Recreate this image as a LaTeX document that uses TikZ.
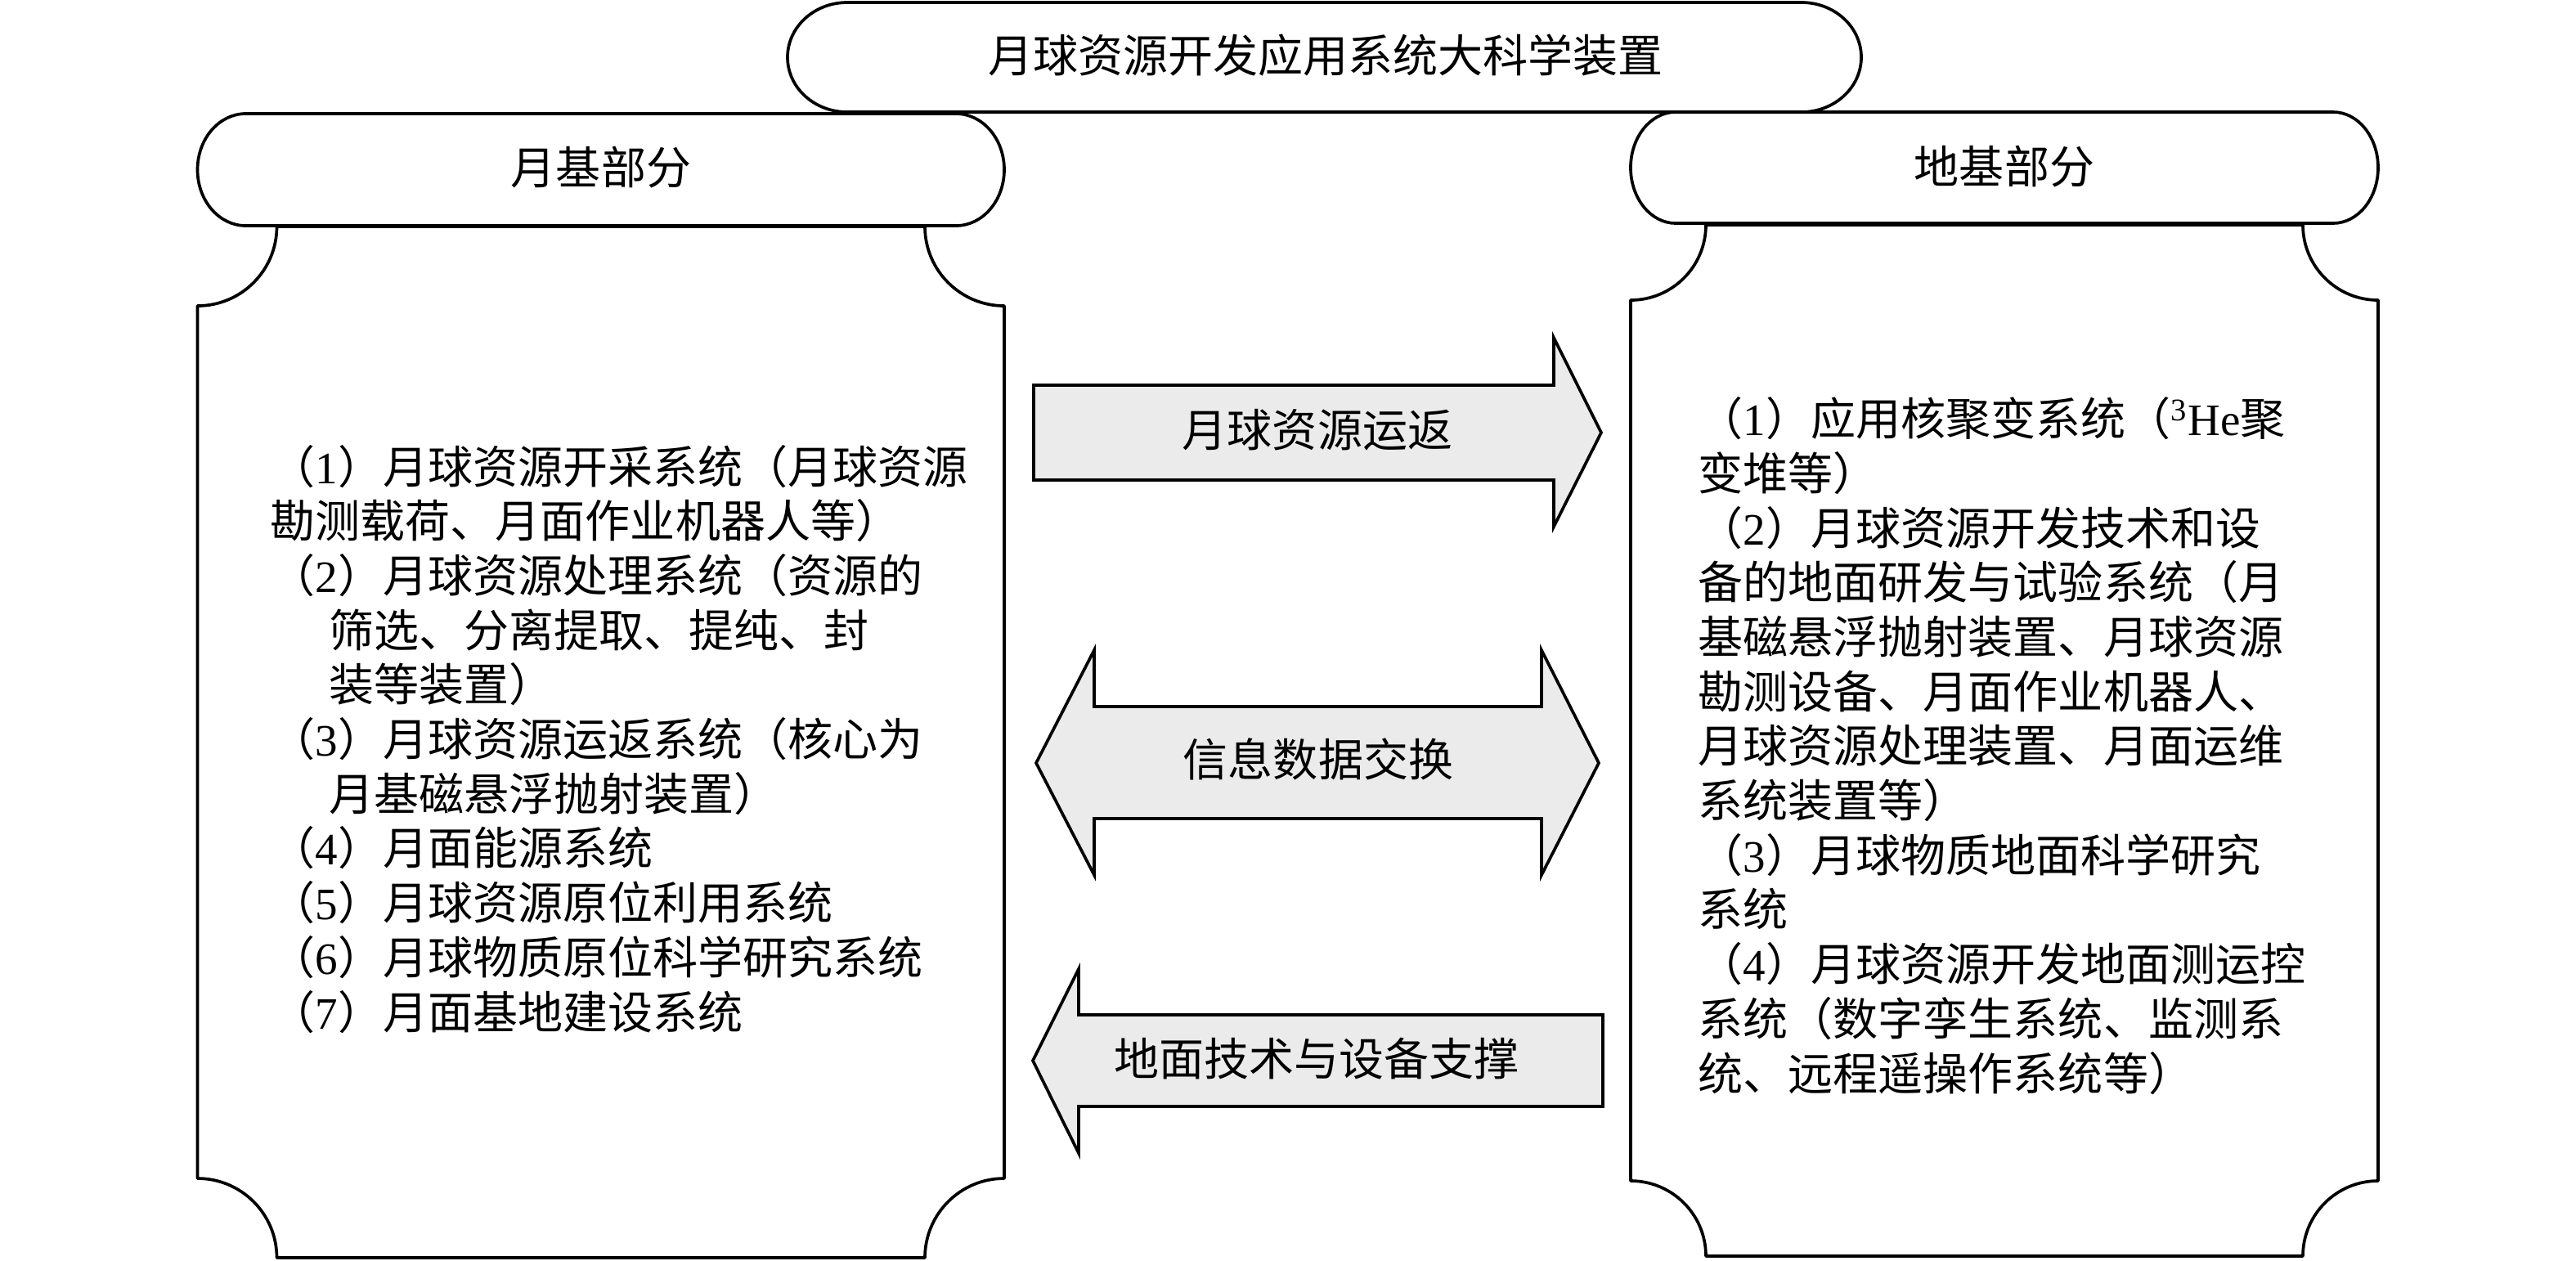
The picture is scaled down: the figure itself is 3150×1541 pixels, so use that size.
\documentclass[tikz,border=0pt]{standalone}
\usepackage{fontspec}
\setmainfont{Liberation Serif}
\newfontfamily\cjk{Noto Sans CJK SC}
\newfontfamily\latfont{Liberation Serif}
\definecolor{arrowgray}{RGB}{235,235,235}
\newcommand\dg[1]{{\latfont #1}}
\begin{document}
\begin{tikzpicture}[x=0.01cm,y=0.01cm]
\tikzset{
  outline/.style={draw=black, line width=1.05pt, line join=round},
  blockarrow/.style={draw=black, line width=1.05pt, line join=miter, fill=arrowgray},
  lbl/.style={font=\cjk\fontsize{15.65}{18.96}\selectfont, inner sep=0pt},
  listtext/.style={lbl, align=left, anchor=base west},
}
\useasboundingbox (0,0) rectangle (3150,-1541);
% bodies
\draw[outline] (338.5,-277) arc[start angle=0, end angle=-90, radius=97]
  -- (241.5,-1441) arc[start angle=90, end angle=0, radius=97]
  -- (1131,-1538) arc[start angle=180, end angle=90, radius=97]
  -- (1228,-374) arc[start angle=270, end angle=180, radius=97] -- cycle;
\draw[outline] (2086,-275) arc[start angle=0, end angle=-90, radius=92]
  -- (1994,-1444) arc[start angle=90, end angle=0, radius=92]
  -- (2816,-1536) arc[start angle=180, end angle=90, radius=92]
  -- (2908,-367) arc[start angle=270, end angle=180, radius=92] -- cycle;
% headers
\draw[outline, fill=white] (300.5,-139) -- (1169,-139)
  arc[start angle=90, end angle=-90, x radius=59, y radius=68.5]
  -- (300.5,-276) arc[start angle=270, end angle=90, x radius=59, y radius=68.5] -- cycle;
\draw[outline, fill=white] (2049,-137) -- (2853,-137)
  arc[start angle=90, end angle=-90, x radius=55, y radius=68]
  -- (2049,-273) arc[start angle=270, end angle=90, x radius=55, y radius=68] -- cycle;
% title
\draw[outline, fill=white] (1036,-3) -- (2203,-3)
  arc[start angle=90, end angle=-90, x radius=73, y radius=67]
  -- (1036,-137) arc[start angle=270, end angle=90, x radius=73, y radius=67] -- cycle;
% block arrows
\draw[blockarrow] (1264,-471) -- (1900,-471) -- (1900,-413) -- (1958,-529)
  -- (1900,-644) -- (1900,-587) -- (1264,-587) -- cycle;
\draw[blockarrow] (1267,-933) -- (1338,-795) -- (1338,-864) -- (1885,-864)
  -- (1885,-795) -- (1955,-933) -- (1885,-1070) -- (1885,-1001)
  -- (1338,-1001) -- (1338,-1070) -- cycle;
\draw[blockarrow] (1263,-1297) -- (1319,-1185) -- (1319,-1241) -- (1960,-1241)
  -- (1960,-1353) -- (1319,-1353) -- (1319,-1410) -- cycle;
% labels
\node[lbl] (ttl) at (1621,-68) {月球资源开发应用系统大科学装置};
\node[lbl] (lhd) at (735,-205) {月基部分};
\node[lbl] (rhd) at (2451,-204) {地基部分};
\node[lbl] (a1) at (1611,-526) {月球资源运返};
\node[lbl] (a2) at (1612,-928) {信息数据交换};
\node[lbl] (a3) at (1610,-1295) {地面技术与设备支撑};
\node[listtext] (llist) at (330,-1258) {%
（\dg{1}）月球资源开采系统（月球资源\\
勘测载荷、月面作业机器人等）\\
（\dg{2}）月球资源处理系统（资源的\\
\hspace*{1.3em}筛选、分离提取、提纯、封\\
\hspace*{1.3em}装等装置）\\
（\dg{3}）月球资源运返系统（核心为\\
\hspace*{1.3em}月基磁悬浮抛射装置）\\
（\dg{4}）月面能源系统\\
（\dg{5}）月球资源原位利用系统\\
（\dg{6}）月球物质原位科学研究系统\\
（\dg{7}）月面基地建设系统};
\node[listtext] (rlist) at (2076,-1333) {%
（\dg{1}）应用核聚变系统（{\latfont\textsuperscript{3}He}聚\\
变堆等）\\
（\dg{2}）月球资源开发技术和设\\
备的地面研发与试验系统（月\\
基磁悬浮抛射装置、月球资源\\
勘测设备、月面作业机器人、\\
月球资源处理装置、月面运维\\
系统装置等）\\
（\dg{3}）月球物质地面科学研究\\
系统\\
（\dg{4}）月球资源开发地面测运控\\
系统（数字孪生系统、监测系\\
统、远程遥操作系统等）};
\end{tikzpicture}
\end{document}
